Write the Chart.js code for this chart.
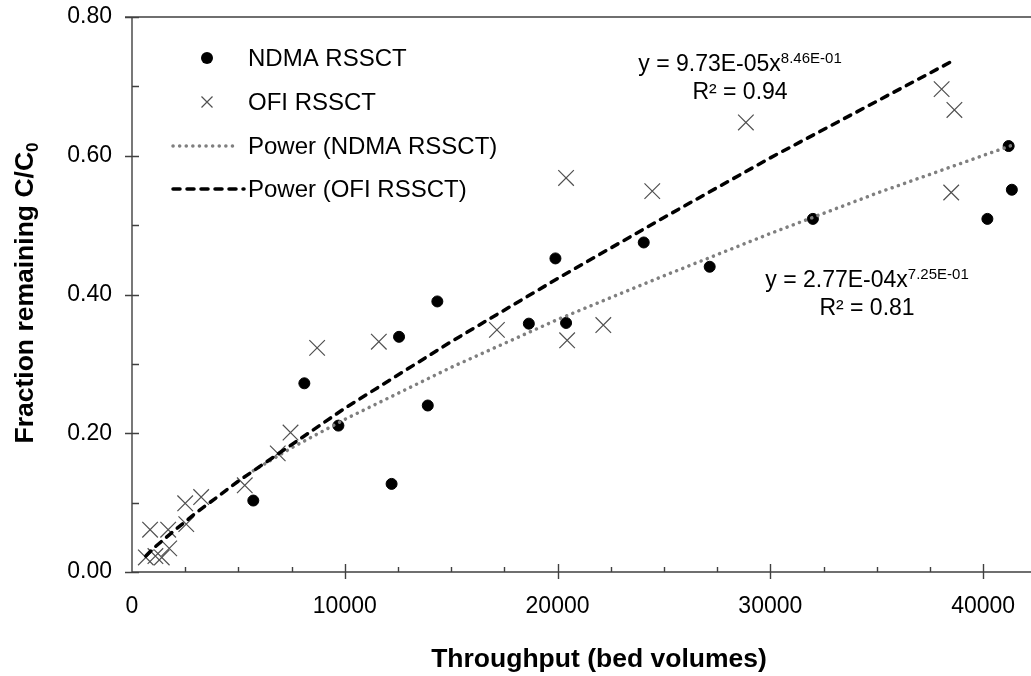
<!DOCTYPE html>
<html><head><meta charset="utf-8">
<script src="https://cdn.jsdelivr.net/npm/chart.js@4/dist/chart.umd.min.js"></script>
<style>html,body{margin:0;padding:0;background:#fff;overflow:hidden}#wrap{width:1031px;height:676px}</style>
</head><body><div id="wrap"><canvas id="c" width="1031" height="676"></canvas></div>
<script>
// ---- data ----
const ndmaX = [5700, 8100, 9700, 12200, 12550, 13900, 14350, 18650, 19900, 20400, 24050, 27150, 32000, 40200, 41200, 41350];
const ndmaY = [0.103, 0.272, 0.211, 0.127, 0.339, 0.240, 0.390, 0.358, 0.452, 0.359, 0.475, 0.440, 0.509, 0.509, 0.614, 0.551];
const ofiX = [650, 850, 1100, 1400, 1700, 1750, 2550, 2500, 3250, 5300, 6850, 7450, 8700, 11600, 17150, 20400, 20450, 22150, 24450, 28850, 38050, 38500, 38650];
const ofiY = [0.021, 0.061, 0.023, 0.021, 0.061, 0.034, 0.069, 0.099, 0.108, 0.125, 0.171, 0.201, 0.323, 0.332, 0.349, 0.568, 0.334, 0.356, 0.549, 0.648, 0.696, 0.547, 0.666];
const ndmaTrendX = [5700, 7500, 10000, 15000, 20000, 25000, 30000, 35000, 41350];
const ndmaTrendY = [0.146, 0.179, 0.220, 0.295, 0.364, 0.427, 0.488, 0.546, 0.615];
const ofiTrendX = [650, 1000, 2000, 3000, 5000, 10000, 15000, 20000, 25000, 30000, 38650];
const ofiTrendY = [0.023, 0.034, 0.060, 0.085, 0.131, 0.236, 0.332, 0.423, 0.511, 0.597, 0.738];
const xTickValues = [0, 10000, 20000, 30000, 40000];
const yTickValues = [0, 0.2, 0.4, 0.6, 0.8];
const seriesNames = ['NDMA RSSCT', 'OFI RSSCT', 'Power (NDMA RSSCT)', 'Power (OFI RSSCT)'];
const ofiEquation = ['y = 9.73E-05x', '8.46E-01', 'R² = 0.94'];
const ndmaEquation = ['y = 2.77E-04x', '7.25E-01', 'R² = 0.81'];
const xTitle = 'Throughput (bed volumes)';
const yTitle = ['Fraction remaining C/C', '0'];

const pts = (xs, ys) => xs.map((x, i) => ({x, y: ys[i]}));
const FONT = "'Liberation Sans', Arial, sans-serif";
const AXIS = '#404040';

const deco = {
  id: 'deco',
  beforeDatasetsDraw(chart) {
    const {ctx, chartArea: a, scales: {x, y}} = chart;
    ctx.save();
    ctx.strokeStyle = AXIS; ctx.lineWidth = 1.4;
    const x0 = x.getPixelForValue(0), y0 = y.getPixelForValue(0);
    ctx.beginPath();
    ctx.moveTo(x0, a.top); ctx.lineTo(x0, a.bottom);
    ctx.moveTo(a.left, y0); ctx.lineTo(a.right, y0);
    ctx.moveTo(x0 - 7, a.top); ctx.lineTo(a.right, a.top);
    for (let v = 0; v <= 0.8001; v += 0.1) {
      const p = Math.round(y.getPixelForValue(v)) + 0.5;
      const major = Math.abs(v / 0.2 - Math.round(v / 0.2)) < 1e-6;
      ctx.moveTo(major ? x0 - 7 : x0, p); ctx.lineTo(x0 + 7, p);
    }
    for (let v = 2500; v <= x.max; v += 2500) {
      const p = Math.round(x.getPixelForValue(v)) + 0.5;
      const major = v % 10000 === 0;
      ctx.moveTo(p, major ? y0 + 7 : y0); ctx.lineTo(p, major ? y0 - 8 : y0 - 5);
    }
    ctx.stroke();
    ctx.restore();
  },
  afterDraw(chart) {
    const {ctx} = chart;
    const ds = chart.data.datasets;
    ctx.save();
    ctx.fillStyle = '#000';
    ctx.textBaseline = 'middle';
    const rows = [58, 102, 146, 189];
    ctx.font = '24px ' + FONT;
    ds.forEach((d, i) => {
      const cy = rows[i];
      if (i === 0) {
        ctx.beginPath(); ctx.arc(207, cy, 6, 0, Math.PI * 2); ctx.fillStyle = '#000'; ctx.fill();
      } else if (i === 1) {
        ctx.strokeStyle = d.borderColor; ctx.lineWidth = d.borderWidth;
        ctx.beginPath(); ctx.moveTo(201.5, cy - 5.5); ctx.lineTo(212.5, cy + 5.5);
        ctx.moveTo(212.5, cy - 5.5); ctx.lineTo(201.5, cy + 5.5); ctx.stroke();
      } else {
        ctx.strokeStyle = d.borderColor; ctx.lineWidth = d.borderWidth;
        ctx.setLineDash(d.borderDash); ctx.lineCap = d.borderCapStyle;
        ctx.beginPath(); ctx.moveTo(173, cy); ctx.lineTo(i === 2 ? 234 : 244, cy); ctx.stroke();
        ctx.setLineDash([]); ctx.lineCap = 'butt';
      }
      ctx.fillStyle = '#000';
      ctx.fillText(d.label, 248, cy + 1);
    });
    const eq = (e, cx, base) => {
      ctx.textBaseline = 'alphabetic';
      ctx.font = '23px ' + FONT; const w1 = ctx.measureText(e[0]).width;
      ctx.font = '15px ' + FONT; const w2 = ctx.measureText(e[1]).width;
      const sx = cx - (w1 + w2) / 2;
      ctx.font = '23px ' + FONT; ctx.fillText(e[0], sx, base);
      ctx.font = '15px ' + FONT; ctx.fillText(e[1], sx + w1, base - 8);
      ctx.font = '23px ' + FONT; ctx.textAlign = 'center';
      ctx.fillText(e[2], cx, base + 28);
      ctx.textAlign = 'left';
    };
    eq(ofiEquation, 740, 71);
    eq(ndmaEquation, 867, 287);
    ctx.font = 'bold 26.5px ' + FONT; ctx.textAlign = 'center'; ctx.textBaseline = 'alphabetic';
    ctx.fillText(xTitle, 599, 667);
    ctx.save();
    ctx.translate(33, 293); ctx.rotate(-Math.PI / 2);
    ctx.font = 'bold 26.5px ' + FONT; const m1 = ctx.measureText(yTitle[0]).width;
    ctx.font = 'bold 17px ' + FONT; const m2 = ctx.measureText(yTitle[1]).width;
    ctx.textAlign = 'left';
    ctx.font = 'bold 26.5px ' + FONT; ctx.fillText(yTitle[0], -(m1 + m2) / 2, 0);
    ctx.font = 'bold 17px ' + FONT; ctx.fillText(yTitle[1], -(m1 + m2) / 2 + m1, 5);
    ctx.restore();
    ctx.restore();
  }
};

new Chart(document.getElementById('c'), {
  type: 'scatter',
  data: {
    datasets: [
      {label: seriesNames[0], data: pts(ndmaX, ndmaY), pointStyle: 'circle', pointRadius: 5.5, pointBorderWidth: 1,
       backgroundColor: '#000', borderColor: '#000', order: 2},
      {label: seriesNames[1], data: pts(ofiX, ofiY), pointStyle: 'crossRot', pointRadius: 11, pointBorderWidth: 1.2,
       backgroundColor: '#505050', borderColor: '#505050', borderWidth: 1.2, order: 3},
      {label: seriesNames[2], data: pts(ndmaTrendX, ndmaTrendY), showLine: true, pointRadius: 0,
       borderColor: '#7f7f7f', borderWidth: 3.5, borderDash: [0.1, 6.5], borderCapStyle: 'round', order: 1},
      {label: seriesNames[3], data: pts(ofiTrendX, ofiTrendY), showLine: true, pointRadius: 0,
       borderColor: '#000', borderWidth: 3.5, borderDash: [7, 7], borderCapStyle: 'round', order: 0}
    ]
  },
  options: {
    responsive: false, animation: false, devicePixelRatio: 1,
    layout: {autoPadding: false, padding: {left: 0, right: 0, top: 17, bottom: 0}},
    plugins: {legend: {display: false}, tooltip: {enabled: false}},
    scales: {
      x: {type: 'linear', min: 0, max: 42250,
          afterBuildTicks: s => { s.ticks = xTickValues.map(v => ({value: v})); },
          afterFit: s => { s.height = 104; s.paddingLeft = 0; s.paddingRight = 0; },
          grid: {display: false, drawTicks: false}, border: {display: false},
          ticks: {padding: 21, color: '#000', font: {family: FONT, size: 23}, maxRotation: 0, autoSkip: false,
                  callback: v => String(v)}},
      y: {type: 'linear', min: 0, max: 0.8,
          afterBuildTicks: s => { s.ticks = yTickValues.map(v => ({value: v})); },
          afterFit: s => { s.width = 132; s.paddingTop = 0; s.paddingBottom = 0; },
          grid: {display: false, drawTicks: false}, border: {display: false},
          ticks: {padding: 20, color: '#000', font: {family: FONT, size: 23}, callback: v => v.toFixed(2)}}
    }
  },
  plugins: [deco]
});
</script></body></html>
